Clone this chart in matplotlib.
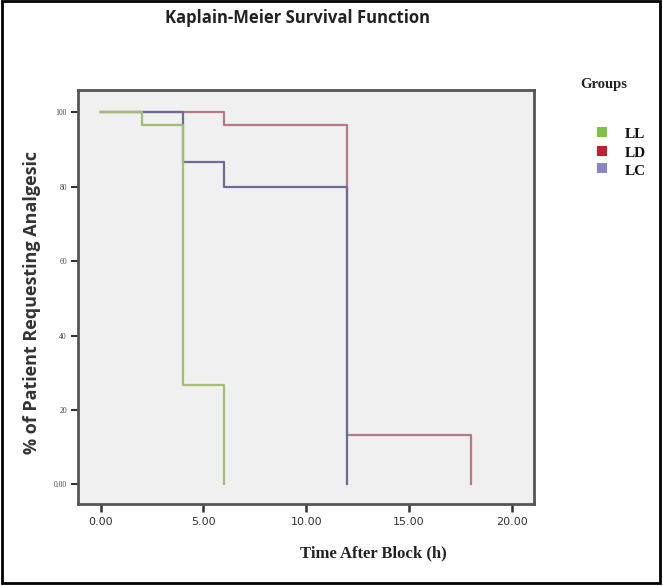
import matplotlib
matplotlib.use('Agg')
import matplotlib.pyplot as plt
from matplotlib.patches import Rectangle

# Kaplan-Meier step data (time in h, % still not requesting)
groups = ['LL', 'LD', 'LC']
ll_time = [0, 2, 4, 6]
ll_surv = [100, 96.67, 26.67, 0]
ld_time = [0, 6, 12, 18]
ld_surv = [100, 96.67, 13.33, 0]
lc_time = [0, 4, 6, 12]
lc_surv = [100, 86.67, 80, 0]

xticks = [0, 5, 10, 15, 20]
xtick_labels = ['0.00', '5.00', '10.00', '15.00', '20.00']
yticks = [0, 20, 40, 60, 80, 100]
ytick_labels = ['0.00', '20', '40', '60', '80', '100']

line_colors = ['#a3bd76', '#b87884', '#6c6c94']
legend_colors = ['#7cc444', '#c21f2e', '#8585c8']

fig = plt.figure(figsize=(6.63, 5.86), dpi=100)
ax = fig.add_axes([0.1176, 0.1399, 0.6878, 0.7065])
ax.set_facecolor('#f0f0f0')

series = [(ll_time, ll_surv), (ld_time, ld_surv), (lc_time, lc_surv)]
# draw LD first, then LC, then LL on top of the 100 line
for i in [1, 2, 0]:
    t, s = series[i]
    ax.step(t, s, where='post', color=line_colors[i], lw=1.6)

ax.set_xlim(-1.1, 21.07)
ax.set_ylim(-5.3, 106.0)
ax.set_xticks(xticks)
ax.set_xticklabels(xtick_labels, fontsize=8, color='#333333')
ax.set_yticks(yticks)
ax.set_yticklabels(ytick_labels, fontsize=5.5, color='#444444', family='Liberation Serif')
ax.tick_params(axis='x', direction='out', length=6, width=1.8, color='#333333', pad=3)
ax.tick_params(axis='y', direction='out', length=5, width=1.5, color='#333333', pad=3)
for sp in ax.spines.values():
    sp.set_color('#555555')
    sp.set_linewidth(2)

fig.text(0.448, 0.969, 'Kaplain-Meier Survival Function', ha='center', va='center',
         fontsize=12, fontweight='bold', family='Open Sans', color='#222222')
fig.text(0.563, 0.056, 'Time After Block (h)', ha='center', va='center',
         fontsize=12, fontweight='bold', family='Liberation Serif', color='#222222')
fig.text(0.048, 0.484, '% of Patient Requesting Analgesic', ha='center', va='center',
         rotation=90, fontsize=13, fontweight='bold', family='Open Sans', color='#333333')

# legend outside on the right
fig.text(0.911, 0.855, 'Groups', ha='center', va='center', fontsize=10.5,
         fontweight='bold', family='Liberation Serif', color='#222222')
leg_y = [0.775, 0.742, 0.712]
for name, c, y in zip(groups, legend_colors, leg_y):
    fig.patches.append(Rectangle((0.900, y - 0.008), 0.015, 0.017, transform=fig.transFigure,
                                 facecolor=c, edgecolor='none'))
    fig.text(0.943, y - 0.004, name, ha='left', va='center', fontsize=11,
             fontweight='bold', family='Liberation Serif', color='#111111')

# outer frame of the picture
fig.patches.append(Rectangle((0.003, 0.005), 0.992, 0.993, transform=fig.transFigure,
                             fill=False, edgecolor='black', lw=2))

fig.savefig('out.png', dpi=100)
